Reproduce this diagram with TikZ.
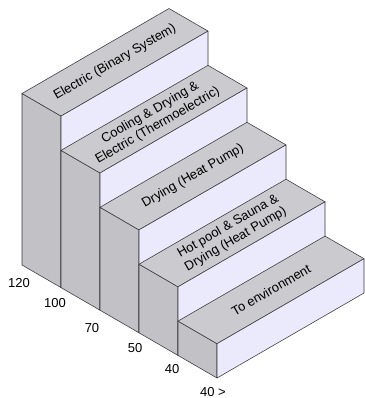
\documentclass[tikz,border=0pt]{standalone}
\usepackage{fontspec}
\setmainfont{Liberation Sans}
\begin{document}
\begin{tikzpicture}[x=1pt,y=-1pt,
  edge/.style={draw={rgb,255:red,55;green,55;blue,60},line width=0.55pt,line join=round},
  sideface/.style={edge,fill={rgb,255:red,193;green,193;blue,198}},
  treadface/.style={edge,fill={rgb,255:red,202;green,202;blue,207}},
  riserface/.style={edge,fill={rgb,255:red,234;green,234;blue,252}},
  treadlabel/.style={rotate=30,align=center,font=\fontsize{13}{15}\selectfont,inner sep=0pt},
  level/.style={font=\fontsize{13}{15}\selectfont,inner sep=0pt}]
\useasboundingbox[fill=white] (0,0) rectangle (364,398);

% five stacked blocks, drawn from the back (tallest) to the front
\foreach \i/\txt in {0/{Electric (Binary System)},
                     1/{Cooling \& Drying \&\\Electric (Thermoelectric)},
                     2/{Drying (Heat Pump)},
                     3/{Hot pool \& Sauna \&\\Drying (Heat Pump)},
                     4/{To environment}} {
  \pgfmathsetmacro\xa{22+39*\i}
  \pgfmathsetmacro\ya{265+22.6*\i}
  \pgfmathsetmacro\xb{\xa+39}
  \pgfmathsetmacro\yb{\ya+22.6}
  \pgfmathsetmacro\hh{34.3*(5-\i)}
  % left side
  \path[sideface] (\xa,\ya) -- (\xb,\yb) -- (\xb,\yb-\hh) -- (\xa,\ya-\hh) -- cycle;
  % tread (top)
  \path[treadface] (\xa,\ya-\hh) -- (\xb,\yb-\hh) -- (\xb+147,\yb-\hh-85)
        -- (\xa+147,\ya-\hh-85) -- cycle;
  % riser (front)
  \path[riserface] (\xb,\yb-\hh) -- (\xb,\yb) -- (\xb+147,\yb-85)
        -- (\xb+147,\yb-\hh-85) -- cycle;
  % label on the tread
  \node[treadlabel] (step\i) at (\xa+93,\ya-\hh-31.2) {\txt};
}

% temperature levels along the bottom edge
\node[level] (t120) at (19,283) {120};
\node[level] (t100) at (55,303) {100};
\node[level] (t70)  at (92,328) {70};
\node[level] (t50)  at (135,348) {50};
\node[level] (t40)  at (172,369) {40};
\node[level] (t40b) at (213,392) {40 >};
\end{tikzpicture}
\end{document}
